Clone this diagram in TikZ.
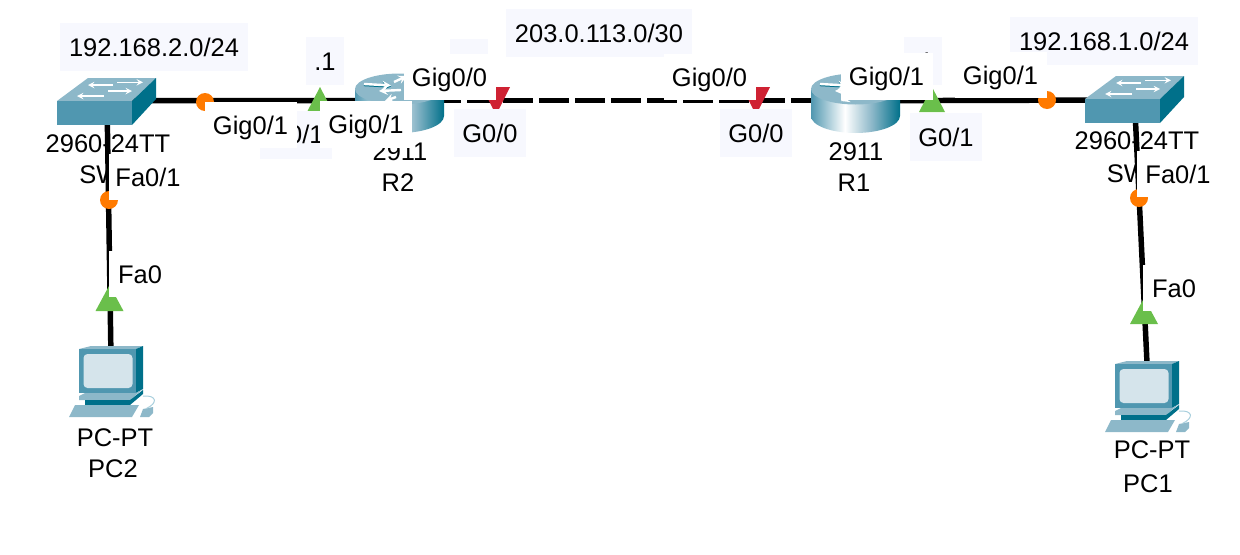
\documentclass[tikz,border=0pt]{standalone}
\usepackage{fontspec}
\setmainfont{Liberation Sans}
\definecolor{topblue}{RGB}{141,184,201}
\definecolor{frontblue}{RGB}{80,151,176}
\definecolor{sideblue}{RGB}{0,112,138}
\definecolor{screenblue}{RGB}{213,228,235}
\definecolor{cordblue}{RGB}{169,207,221}
\definecolor{palebox}{RGB}{247,248,254}
\definecolor{portorange}{RGB}{255,122,0}
\definecolor{portgreen}{RGB}{106,191,75}
\definecolor{portred}{RGB}{207,34,51}
\pgfdeclarehorizontalshading{routerbody}{100bp}{color(0bp)=(frontblue); color(25bp)=(frontblue); color(44bp)=(white); color(59bp)=(topblue); color(75bp)=(sideblue); color(100bp)=(sideblue)}
\tikzset{every picture/.style={line width=0.75pt}}
\tikzset{
  link/.style={line width=4.1pt},
  linkdash/.style={line width=3.75pt,dash pattern=on 22.5pt off 4.5pt,dash phase=3.75pt},
  txt/.style={font=\fontsize{19.1}{23}\selectfont,inner sep=0pt,text height=13.5pt,text depth=0pt},
  palelbl/.style={txt,fill=palebox,minimum width=54pt,minimum height=36pt},
  whitelbl/.style={txt,fill=white,minimum width=69pt,minimum height=35pt},
  iconarrow/.style={white,line width=1.1pt,-stealth},
  routerarrow/.style={white,line width=1.8pt,-stealth},
  switchicon/.pic={
    \fill [topblue] (0,0) -- (31,-23) -- (99,-23) -- (75,0) -- cycle ;
    \fill [frontblue] (0,0) rectangle (75,24) ;
    \fill [sideblue] (75,0) -- (99,-23) -- (99,-2) -- (75,24) -- cycle ;
    \draw [iconarrow] (56,-16) -- (31,-16) ;
    \draw [iconarrow] (60,-18.7) -- (86,-18.7) ;
    \draw [iconarrow] (47,-5) -- (20,-5) ;
    \draw [iconarrow] (51,-10) -- (75,-10) ;
  },
  routericon/.pic={
    \shade [shading=routerbody] (0,89) -- (0,116) .. controls (0,125.4) and (19.9,133) .. (44.5,133) .. controls (69,133) and (89,125.4) .. (89,116) -- (89,89) -- cycle ;
    \fill [topblue] (44.5,89) ellipse [x radius=44.5,y radius=15.5] ;
    \draw [routerarrow,draw=sideblue] (9,85) -- (36,86.5) ;
    \draw [routerarrow] (9,84) -- (36,85.5) ;
    \draw [routerarrow] (46,90) -- (24,91) ;
    \draw [routerarrow] (41,97) -- (30,101) ;
    \draw [routerarrow] (39,82) -- (52,76) ;
  },
  pcicon/.pic={
    \fill [topblue] (-1,0) -- (11,-3) -- (63,-3) -- (56,0) -- cycle ;
    \fill [frontblue] (-1,0) rectangle (56,44) ;
    \fill [sideblue] (56,0) -- (63,-3) -- (63,40) -- (56,44) -- cycle ;
    \fill [screenblue,rounded corners=3pt] (3.5,5) rectangle (52.5,39) ;
    \fill [topblue] (-1,47) -- (5,44) -- (56,44) -- (63,40) -- (50,51) -- (-1,51) -- cycle ;
    \fill [sideblue] (5,51) -- (50,51) -- (63,41) -- (63,45) -- (50,56) -- (5,56) -- cycle ;
    \fill [topblue] (-11,68) -- (-5,56) -- (59,56) -- (52,68) -- cycle ;
    \fill [topblue] (60,68) -- (63,60) -- (73,58) -- (73,64) -- (69,68) -- cycle ;
    \draw [cordblue] (66.7,59.3) .. controls (78,54) and (77,46) .. (63,47) ;
  },
}

\begin{document}
\begin{tikzpicture}[x=0.75pt,y=0.75pt,yscale=-1,xscale=1]
\useasboundingbox (0,0) rectangle (1240,554);
%Device ends of the links
\coordinate (SW2) at (107,100.5);
\coordinate (R2) at (400,100.7);
\coordinate (R1) at (855,100.7);
\coordinate (SW1) at (1134.5,100);
\coordinate (PC2) at (111.5,390);
\coordinate (PC1) at (1149,405);
% Text Node
\draw (108,143) node (hwSW2) [txt] {2960-24TT};
\draw (107,174) node (nameSW2) [txt] {SW2};
\draw (400,151) node (hwR2) [txt] {2911};
\draw (398,182) node (nameR2) [txt] {R2};
\draw (856,151) node (hwR1) [txt] {2911};
\draw (854,182) node (nameR1) [txt] {R1};
\draw (1137,140) node (hwSW1) [txt] {2960-24TT};
\draw (1134.5,173) node (nameSW1) [txt] {SW1};
\draw (115,437) node (hwPC2) [txt] {PC-PT};
\draw (113,468) node (namePC2) [txt] {PC2};
\draw (1152,449) node (hwPC1) [txt] {PC-PT};
\draw (1148,483) node (namePC1) [txt] {PC1};
%Links
\draw [link] (SW2) -- (R2) ;
\draw [linkdash] (R2) -- (R1) ;
\draw [link] (R1) -- (SW1) ;
\draw [link] (SW2) -- (PC2) ;
\draw [link] (SW1) -- (PC1) ;
%Devices
\pic [transform shape] at (57,101) {switchicon};
\pic [transform shape] at (1085,99) {switchicon};
\pic [transform shape] at (355,0) {routericon};
\pic [transform shape] at (811,0) {routericon};
\pic [transform shape] at (80,349) {pcicon};
\pic [transform shape] at (1116,364) {pcicon};
%Port markers
\fill [portorange] (205,102) circle [radius=9] ;
\fill [portorange] (109,200) circle [radius=9] ;
\fill [portorange] (1047,100) circle [radius=9] ;
\fill [portorange] (1139,198) circle [radius=9] ;
\fill [portgreen] (307,112) -- (320,87) -- (333,112) -- cycle ;
\fill [portgreen] (919,112) -- (932,87) -- (945,112) -- cycle ;
\fill [portgreen] (95.5,311) -- (109.5,285) -- (123.5,311) -- cycle ;
\fill [portgreen] (1130,324) -- (1144,298) -- (1158,324) -- cycle ;
\fill [portred] (482,87) -- (510,87) -- (496,115) -- cycle ;
\fill [portred] (742,87) -- (770,87) -- (756,115) -- cycle ;
%Pale label boxes
\fill [palebox] (450,39) rectangle (488,60) ;
\draw (154,47) node (netLeft) [palelbl,minimum width=141pt] {192.168.2.0/24};
\draw (599,33) node (netMid) [palelbl,minimum width=139.5pt] {203.0.113.0/30};
\draw (1104,41) node (netRight) [palelbl,minimum width=141pt] {192.168.1.0/24};
\draw (325,61) node (ipR2) [palelbl,minimum width=28.5pt] {.1};
\draw (923,61) node (ipR1) [palelbl,minimum width=28.5pt] {.1};
\draw (296,134.5) node (portR2b) [palelbl] {G0/1};
\draw (490,133) node (portR2a) [palelbl] {G0/0};
\draw (756,133) node (portR1a) [palelbl] {G0/0};
\draw (946,137) node (portR1b) [palelbl] {G0/1};
%White label boxes
\draw (250.5,125) node (gigSW2) [whitelbl] {Gig0/1};
\draw (366,124.5) node (gigR2b) [whitelbl] {Gig0/1};
\draw (449.5,77) node (gigR2a) [whitelbl] {Gig0/0};
\draw (709.5,77) node (gigR1a) [whitelbl] {Gig0/0};
\draw (886.5,76.5) node (gigR1b) [whitelbl] {Gig0/1};
\draw (1000.5,75) node (gigSW1) [whitelbl] {Gig0/1};
\draw (148,177) node (faSW2) [whitelbl,minimum width=58.5pt] {Fa0/1};
\draw (1178,174) node (faSW1) [whitelbl,minimum width=61.5pt] {Fa0/1};
\draw (140,274) node (faPC2) [whitelbl,minimum width=46.5pt] {Fa0};
\draw (1174,288) node (faPC1) [whitelbl,minimum width=46pt] {Fa0};
\end{tikzpicture}
\end{document}
